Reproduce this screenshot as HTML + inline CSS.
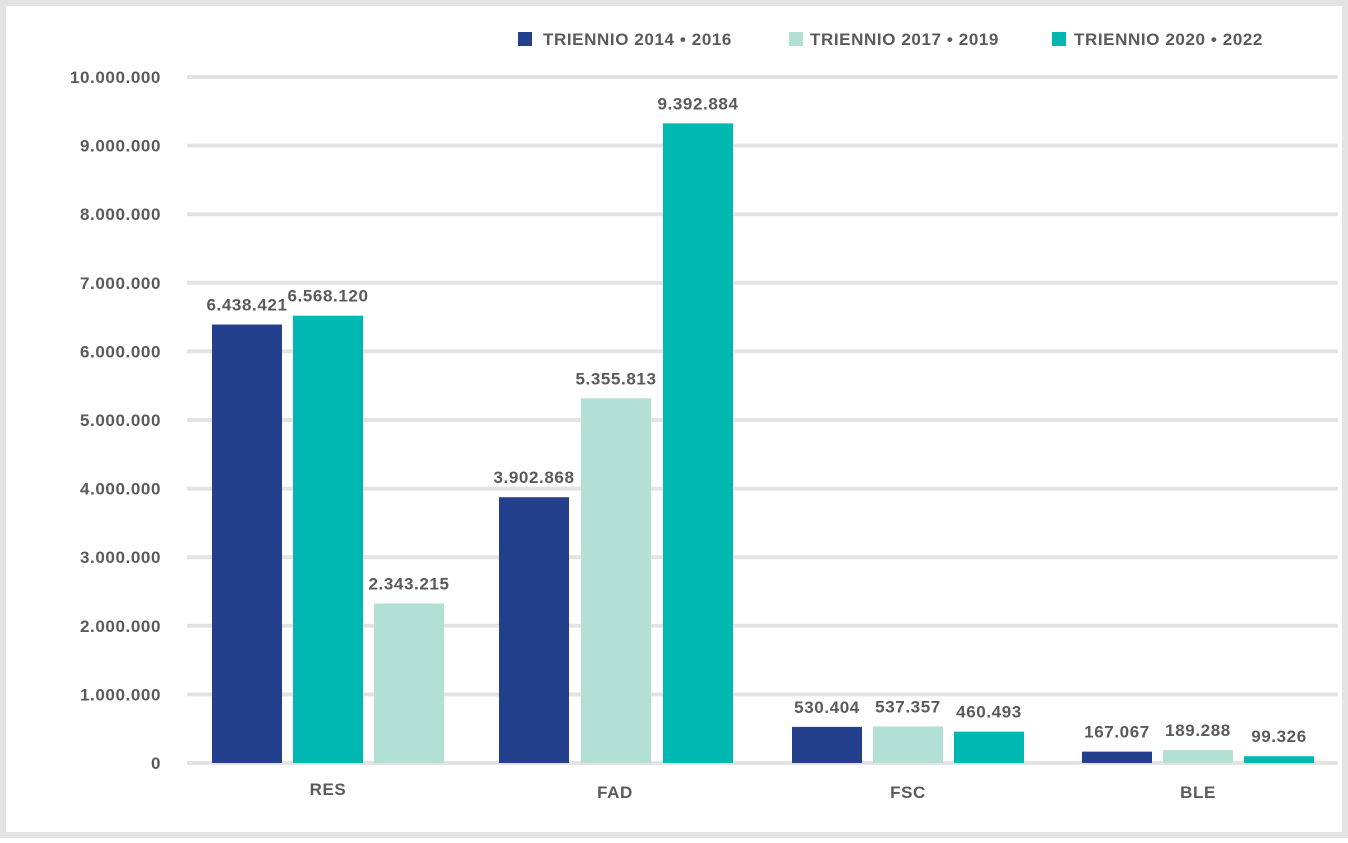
<!DOCTYPE html>
<html><head><meta charset="utf-8"><style>
body{margin:0;background:#fff;}
svg text{font-family:"Liberation Sans",sans-serif;font-weight:bold;fill:#5a5a5a;letter-spacing:0.6px;}
</style></head><body>
<svg id="chart" width="1348" height="838" xmlns="http://www.w3.org/2000/svg">
<rect x="3" y="3" width="1342" height="832" fill="#fff" stroke="#e3e3e3" stroke-width="6"/>
<g id="grid"></g><g id="bars"></g><g id="labels"></g>
<g>
<rect x="518" y="32" width="14" height="14" fill="#243f8c"/>
<text x="543" y="45" font-size="17">TRIENNIO 2014 • 2016</text>
<rect x="789" y="32" width="14" height="14" fill="#b3e0d5"/>
<text x="810" y="45" font-size="17">TRIENNIO 2017 • 2019</text>
<rect x="1052" y="32" width="14" height="14" fill="#00b8b2"/>
<text x="1074" y="45" font-size="17">TRIENNIO 2020 • 2022</text>
</g>
</svg>
<script>
const categories=["RES","FAD","FSC","BLE"];
const bar1=[6438421,3902868,530404,167067];
const bar2=[6568120,5355813,537357,189288];
const bar3=[2343215,9392884,460493,99326];
const yTicks=[0,1000000,2000000,3000000,4000000,5000000,6000000,7000000,8000000,9000000,10000000];
const C1="#243f8c",C2="#b3e0d5",C3="#00b8b2";
const ns="http://www.w3.org/2000/svg";
const yg=v=>763-v*68.6/1000000;
const y=v=>763-v*68.1/1000000;
const groupX=i=>[212,499,792,1082][i];
const fmt=v=>v.toString().replace(/\B(?=(\d{3})+(?!\d))/g,".");
function mk(tag,attrs,parent){const e=document.createElementNS(ns,tag);for(const k in attrs)e.setAttribute(k,attrs[k]);document.getElementById(parent).appendChild(e);return e;}
yTicks.forEach(t=>{
 const l=mk("line",{x1:187,x2:1338,y1:yg(t),y2:yg(t),stroke:"#e3e3e3","stroke-width":4},"grid");
 
 
 const tx=mk("text",{x:161,y:yg(t)+6,"font-size":17,"text-anchor":"end"},"grid");
 tx.textContent=fmt(t);
 
 
});
categories.forEach((c,i)=>{
 const x0=groupX(i);
 const pitch=i===1?82:81;
 const series=[[bar1[i],C1],[bar2[i],i===0?C3:C2],[bar3[i],i===0?C2:C3]];
 series.forEach((s,j)=>{
  const bx=x0+j*pitch;
  const r=mk("rect",{x:bx,y:y(s[0]),width:70,height:763-y(s[0]),fill:s[1]},"bars");
  
  
  const t=mk("text",{x:bx+35,y:y(s[0])-14,"font-size":17,"text-anchor":"middle"},"labels");
  t.textContent=fmt(s[0]);
  
  
 });
 const cl=mk("text",{x:x0+116,y:i===0?795:798,"font-size":17,"text-anchor":"middle"},"labels");
 cl.textContent=c;
 
 
});
</script>
</body></html>
